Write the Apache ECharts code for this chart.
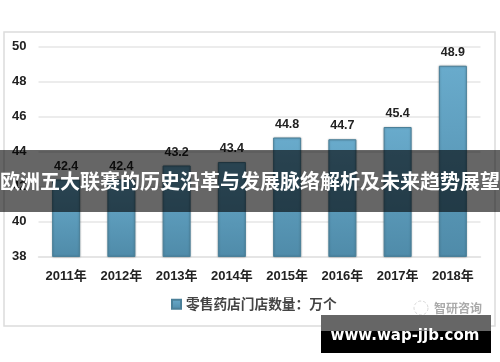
<!DOCTYPE html>
<html><head><meta charset="utf-8">
<style>html,body{margin:0;padding:0;background:#fff}#c{width:500px;height:362px}</style>
<script src="https://cdn.jsdelivr.net/npm/echarts@6/dist/echarts.min.js"></script>
</head><body><div id="c"></div>
<script>
const categories = ['2011年','2012年','2013年','2014年','2015年','2016年','2017年','2018年'];
const values = [42.4,42.4,43.2,43.4,44.8,44.7,45.4,48.9];
const yTicks = {min:38,max:50,interval:2};
const seriesName = '零售药店门店数量：万个';
const bannerText = '欧洲五大联赛的历史沿革与发展脉络解析及未来趋势展望';
const siteText = 'www.wap-jjb.com';
const sourceText = '智研咨询';
const font = '"Noto Sans CJK SC","Liberation Sans",sans-serif';
const latin = '"Liberation Sans","Noto Sans CJK SC",sans-serif';
const chart = echarts.init(document.getElementById('c'),null,{renderer:'canvas'});
const barFill = new echarts.graphic.LinearGradient(0,0,0,1,[{offset:0,color:'#69abcc'},{offset:1,color:'#4f8ba9'}]);
chart.setOption({
  animation:false,
  backgroundColor:'#fff',
  legend:{bottom:46,left:166,itemWidth:9,itemHeight:9,itemGap:3,
    data:[{name:seriesName,icon:'rect'}],
    textStyle:{fontFamily:font,fontSize:13.7,fontWeight:'bold',color:'#444'}},
  grid:{left:38.5,right:19.5,top:46.5,bottom:105.5},
  xAxis:{type:'category',data:categories,
    axisLine:{lineStyle:{color:'#e2e2e2',width:1.5}},axisTick:{show:false},
    axisLabel:{interval:0,margin:13,fontFamily:latin,fontSize:13,fontWeight:'bold',color:'#222'}},
  yAxis:{type:'value',min:yTicks.min,max:yTicks.max,interval:yTicks.interval,
    axisLine:{show:false},axisTick:{show:false},
    splitLine:{lineStyle:{color:'#e6e6e6',width:1.5}},
    axisLabel:{margin:12,fontFamily:latin,fontSize:13,fontWeight:'bold',color:'#222'}},
  series:[{name:seriesName,type:'bar',data:values,barWidth:28,
    itemStyle:{color:barFill,borderColor:'#4b8099',borderWidth:1,shadowColor:'rgba(0,0,0,0.25)',shadowBlur:2},
    label:{show:true,position:'top',distance:7,fontFamily:latin,fontSize:12.5,fontWeight:'bold',color:'#222'}}],
  graphic:[
    {type:'rect',z:-1,silent:true,shape:{x:4,y:32,width:491,height:294},style:{fill:'transparent',stroke:'#dcdcdc',lineWidth:1.5}},
    {type:'circle',z:50,silent:true,shape:{cx:421,cy:308,r:7},style:{fill:'#fff',stroke:'#d8d8d8',lineWidth:1,lineDash:[3,2]}},
    {type:'text',z:50,silent:true,style:{x:434,y:308,text:sourceText,fill:'#aaaaaa',font:'bold 12px '+font,textVerticalAlign:'middle'}},
    {type:'rect',z:100,silent:true,shape:{x:0,y:150,width:500,height:62},style:{fill:'rgba(0,0,0,0.6)'}},
    {type:'text',z:101,silent:true,style:{x:250,y:181,text:bannerText,fill:'#fff',font:'bold 20px '+font,textAlign:'center',textVerticalAlign:'middle'}},
    {type:'rect',z:100,silent:true,shape:{x:321,y:315,width:170,height:16},style:{fill:'#666'}},
    {type:'rect',z:100,silent:true,shape:{x:321,y:331,width:170,height:22},style:{fill:'#000'}},
    {type:'text',z:101,silent:true,style:{x:405,y:336,text:siteText,fill:'#fff',font:'bold 15px "DejaVu Sans",sans-serif',textAlign:'center',textVerticalAlign:'middle'}}
  ]
});
</script></body></html>
